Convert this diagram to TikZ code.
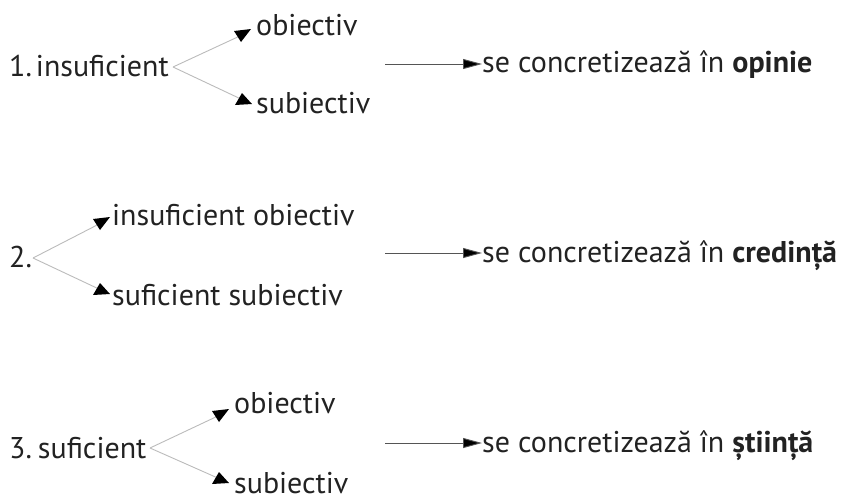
\documentclass[tikz,border=0pt]{standalone}
\usepackage{fontspec}
\setmainfont{PT Sans}
\usetikzlibrary{arrows.meta,calc}
\definecolor{inkc}{HTML}{222222}
\definecolor{branchc}{HTML}{BBBBBB}
\definecolor{leadc}{HTML}{555555}
\tikzset{
  lbl/.style={anchor=base west, inner sep=0pt, text=inkc,
    font=\fontsize{30}{36}\selectfont},
  branch/.style={draw=branchc, line width=0.9pt},
  lead/.style={draw=leadc, line width=0.9pt,
    -{Triangle[length=19pt,width=10pt,fill=black]}},
  downtri/.pic={\fill[black] (0,0) -- (-7,-11) -- (10,-13) -- cycle;},
  uptri/.pic={\fill[black] (0,0) -- (-7,12) -- (10,11) -- cycle;}
}
\begin{document}
\begin{tikzpicture}[x=1pt,y=-1pt]
\useasboundingbox (0,0) rectangle (845,499);

% --- 1. insuficient ---
\node[lbl] (a1) at (9,76) {1.\kern-4pt\ insuficient};
\coordinate (a1s) at (173,67);
\coordinate (a1u) at (241,42);
\coordinate (a1d) at (242,93);
\node[lbl] (a1o) at (256,35) {obiectiv};
\node[lbl] (a1b) at (256,113) {subiectiv};
\draw[branch] (a1s) -- ($(a1u)+(1,-7)$);
\draw[branch] (a1s) -- ($(a1d)+(1,7)$);
\pic at (a1u) {downtri};
\pic at (a1d) {uptri};
\coordinate (a1l) at (385,64);
\node[lbl] (a1r) at (482,72) {se concretizează în \textbf{opinie}};
\draw[lead] (a1l) -- (a1l -| a1r.west);

% --- 2. ---
\node[lbl] (a2) at (9,267) {2.};
\coordinate (a2s) at (33,258);
\coordinate (a2u) at (100,230);
\coordinate (a2d) at (100,283);
\node[lbl] (a2o) at (112,225) {insuficient obiectiv};
\node[lbl] (a2b) at (112,305) {suficient subiectiv};
\draw[branch] (a2s) -- ($(a2u)+(1,-7)$);
\draw[branch] (a2s) -- ($(a2d)+(1,7)$);
\pic at (a2u) {downtri};
\pic at (a2d) {uptri};
\coordinate (a2l) at (385,253);
\node[lbl] (a2r) at (482,262) {se concretizează în \textbf{credință}};
\draw[lead] (a2l) -- (a2l -| a2r.west);

% --- 3. suficient ---
\node[lbl] (a3) at (9,458) {3.\kern-2pt\ suficient};
\coordinate (a3s) at (150,448);
\coordinate (a3u) at (219,422);
\coordinate (a3d) at (219,472);
\node[lbl] (a3o) at (234,413) {obiectiv};
\node[lbl] (a3b) at (234,493) {subiectiv};
\draw[branch] (a3s) -- ($(a3u)+(1,-7)$);
\draw[branch] (a3s) -- ($(a3d)+(1,7)$);
\pic at (a3u) {downtri};
\pic at (a3d) {uptri};
\coordinate (a3l) at (385,443);
\node[lbl] (a3r) at (482,452) {se concretizează în \textbf{știință}};
\draw[lead] (a3l) -- (a3l -| a3r.west);
\end{tikzpicture}
\end{document}
